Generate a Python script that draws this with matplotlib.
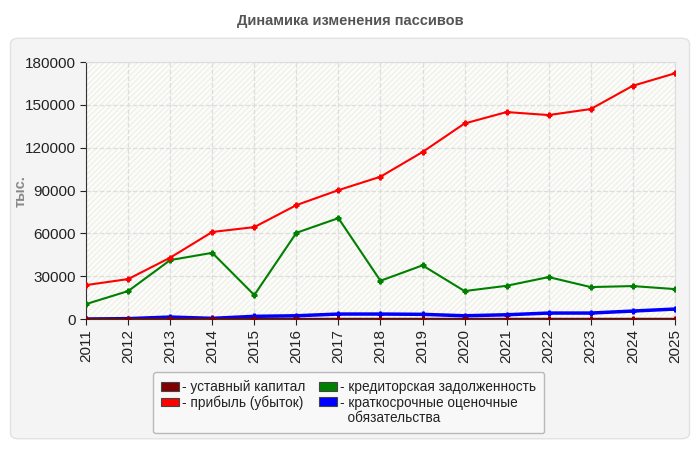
import matplotlib.pyplot as plt
from matplotlib.patches import FancyBboxPatch, Rectangle, Patch
import numpy as np

plt.rcParams['font.family'] = ['Liberation Sans', 'DejaVu Sans']

years = [2011, 2012, 2013, 2014, 2015, 2016, 2017, 2018, 2019, 2020, 2021, 2022, 2023, 2024, 2025]
ustav = [100, 100, 100, 100, 100, 100, 100, 100, 100, 100, 100, 100, 100, 100, 100]
pribyl = [23800, 28000, 43000, 61000, 64400, 79800, 90300, 99700, 117000, 137000, 145000, 142900, 147100, 163400, 172100]
kredit = [10500, 19600, 41300, 46400, 16800, 60400, 70700, 26800, 37600, 19600, 23300, 29400, 22400, 23100, 21000]
kratk = [0, 300, 1400, 500, 1900, 2300, 3500, 3500, 3300, 2300, 3000, 4200, 4200, 5600, 7000]

labels = ['- уставный капитал', '- прибыль (убыток)',
          '- кредиторская задолженность', '- краткосрочные оценочные']
colors = ['#800000', '#ff0000', '#008000', '#0000ff']
yticks = [0, 30000, 60000, 90000, 120000, 150000, 180000]

fig = plt.figure(figsize=(7, 4.5), dpi=100)
fig.patch.set_facecolor('white')

# серая подложка
panel = FancyBboxPatch((0.015, 0.025), 0.97, 0.89, boxstyle='round,pad=0,rounding_size=0.012',
                       transform=fig.transFigure, facecolor='#f4f4f4', edgecolor='#e2e2e2',
                       lw=1, zorder=-10)
fig.patches.append(panel)

fig.text(0.5, 0.953, 'Динамика изменения пассивов', ha='center', va='center',
         fontsize=10.5, fontweight='bold', color='#555555')

ax = fig.add_axes([0.123, 0.291, 0.841, 0.571])
ax.set_facecolor('#fdfdf7')
ax.add_patch(Rectangle((0, 0), 1, 1, transform=ax.transAxes, facecolor='none',
                       edgecolor='#efefef', hatch='//////', lw=0, zorder=0))

series = [ustav, pribyl, kredit, kratk]
for i in [3, 2, 1, 0]:
    lw = 2.5 if i in (0, 3) else 1.5
    ax.plot(years, series[i], color=colors[i], lw=lw, marker='P', markersize=3.5,
            zorder=3 + (3 - i))

ax.set_xlim(years[0], years[-1])
ax.set_ylim(0, 180000)
ax.set_xticks(years)
ax.set_xticklabels([str(y) for y in years], rotation=90, fontsize=11)
ax.set_yticks(yticks)
ax.set_yticklabels([str(v) for v in yticks], fontsize=11)
ax.tick_params(colors='#222222', length=4)
ax.grid(True, ls='--', color='#dddddd', lw=0.9)
ax.set_axisbelow(True)
for s in ['top', 'right']:
    ax.spines[s].set_color('#dddddd')
for s in ['left', 'bottom']:
    ax.spines[s].set_color('#333333')

fig.text(0.03, 0.575, 'тыс.', rotation=90, ha='center', va='center',
         fontsize=10.5, fontweight='bold', color='#888888')

handles = [Patch(facecolor=c, edgecolor='#444444', lw=0.8) for c in colors]
blank = Patch(facecolor='none', edgecolor='none')
leg_handles = [handles[0], handles[1], blank, handles[2], handles[3], blank]
leg_labels = [labels[0], labels[1], '', labels[2], labels[3], '  обязательства']
leg = fig.legend(leg_handles, leg_labels, ncol=2, loc='center', bbox_to_anchor=(0.498, 0.105),
                 fontsize=9.8, frameon=True, fancybox=True, handlelength=1.3,
                 handleheight=0.6, handletextpad=0.25, columnspacing=1.0,
                 labelspacing=0.1, borderpad=0.6)
leg.get_frame().set_facecolor('#fafafa')
leg.get_frame().set_edgecolor('#aaaaaa')
for t in leg.get_texts():
    t.set_color('#222222')

fig.savefig('out.png', dpi=100)
